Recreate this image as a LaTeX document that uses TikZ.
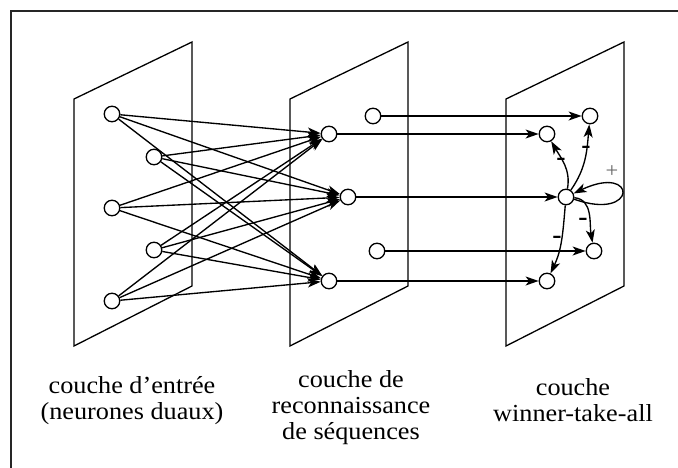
\documentclass[tikz,border=0pt]{standalone}
\usepackage{fontspec}
\setmainfont{Liberation Serif}[FakeStretch=1.07]
\usetikzlibrary{arrows.meta}
\begin{document}
\begin{tikzpicture}[x=1pt,y=1pt,
  neuron/.style={circle,draw,fill=white,minimum size=15.5pt,inner sep=0pt,line width=1.3pt},
  plane/.style={draw,line width=1.3pt,line join=miter},
  conn/.style={line width=1.35pt,-{Stealth[length=13pt,width=9pt,inset=3.5pt]}},
  lab/.style={align=center,inner sep=0pt,anchor=base,font=\fontsize{24.5}{26}\selectfont},
  minus/.style={inner sep=0pt,font=\fontsize{26}{26}\selectfont\bfseries},
  plus/.style={inner sep=0pt,text=black!60,font=\fontsize{21}{21}\selectfont}]
\useasboundingbox (0,0) rectangle (678,468);
\clip (0,0) rectangle (678,468);
% frame (only top and left visible)
\draw[line width=2.8pt,black!85] (11,-10) -- (11,457) -- (700,457);
% planes
\foreach \L in {74,290,506}{
  \draw[plane] (\L,122) -- (\L,369) -- (\L+118,426) -- (\L+118,182) -- cycle;
}
% input layer
\node[neuron] (i1) at (112,354) {};
\node[neuron] (i2) at (154,311) {};
\node[neuron] (i3) at (112,260) {};
\node[neuron] (i4) at (154,218) {};
\node[neuron] (i5) at (112,167) {};
% sequence recognition layer
\node[neuron] (s1) at (329,334) {};
\node[neuron] (s2) at (348,271) {};
\node[neuron] (s3) at (329,187) {};
\node[neuron] (t1) at (373,352) {};
\node[neuron] (t2) at (377,217) {};
% winner-take-all layer
\node[neuron] (w1) at (590,352) {};
\node[neuron] (w2) at (547,334) {};
\node[neuron] (c)  at (566,271) {};
\node[neuron] (w4) at (594,217) {};
\node[neuron] (w5) at (547,187) {};
% full connections
\foreach \a in {i1,i2,i3,i4,i5}{
  \foreach \b in {s1,s2,s3}{
    \draw[conn] (\a) -- (\b);
  }
}
% horizontal connections
\draw[conn] (t1) -- (w1);
\draw[conn] (s1) -- (w2);
\draw[conn] (s2) -- (c);
\draw[conn] (t2) -- (w4);
\draw[conn] (s3) -- (w5);
% lateral inhibition
\draw[conn] (c) to[out=80,in=-60] (w2);
\draw[conn] (c) to[out=55,in=-95] (w1);
\draw[conn] (c) to[out=-5,in=100] (w4);
\draw[conn] (c) to[out=-95,in=65] (w5);
% self excitation
\draw[conn] (c.-15) .. controls (638,246) and (638,305) .. (c.25);
% signs
\node[minus] (m1) at (561,306) {-};
\node[minus] (m2) at (586,318) {-};
\node[minus] (m3) at (583,246) {-};
\node[minus] (m4) at (557,228) {-};
\node[plus] (p1) at (612,296) {+};
% captions (anchor = baseline of last line)
\node[lab] (cap1) at (132,48) {couche d’entrée\\(neurones duaux)};
\node[lab] (cap2) at (351,28) {couche de\\reconnaissance\\de séquences};
\node[lab] (cap3) at (573,46) {couche\\winner-take-all};
\end{tikzpicture}
\end{document}
